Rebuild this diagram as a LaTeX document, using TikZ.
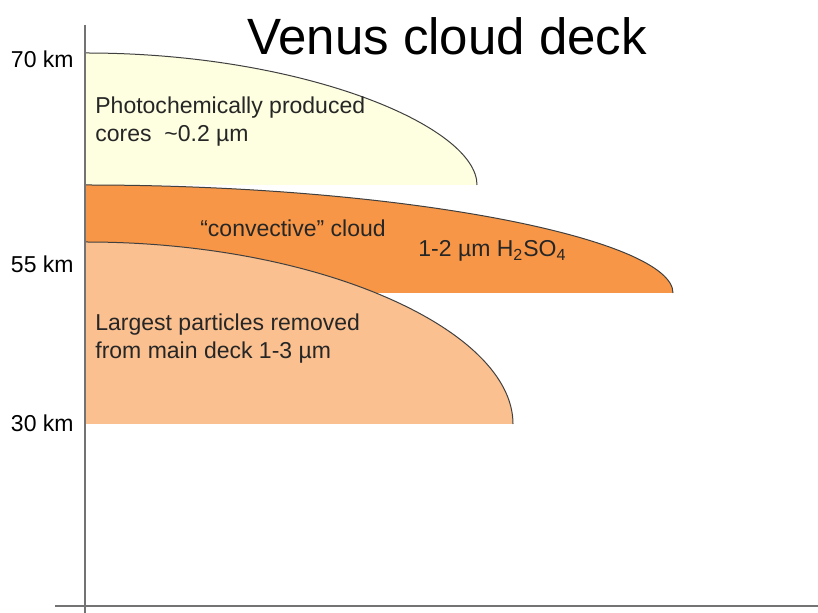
\documentclass[tikz,border=0pt]{standalone}
\usepackage{fontspec}
\setmainfont{Liberation Sans}
\usetikzlibrary{positioning}

\definecolor{coreyellow}{HTML}{FEFEE0}
\definecolor{convorange}{HTML}{F79646}
\definecolor{lowerpeach}{HTML}{FAC090}

\begin{document}
\begin{tikzpicture}[
  x=0.5pt, y=-0.5pt,
  lbl/.style={font=\fontsize{11.5}{14}\selectfont, text=black!85, align=left, inner sep=0pt},
  km/.style={font=\fontsize{11.5}{14}\selectfont, anchor=east, inner sep=0pt},
  rim/.style={draw=black!75, line width=0.5pt},
  axis/.style={draw=black!55, line width=0.6pt}
]
\useasboundingbox (0,0) rectangle (818,613);

% cloud layers, top to bottom
\fill[coreyellow] (86,53) .. controls (302,53) and (477,126) .. (477,185) -- (86,185) -- cycle;
\draw[rim] (86,53) .. controls (302,53) and (477,126) .. (477,185);
\fill[convorange] (86,185) .. controls (410,185) and (673,240) .. (673,293) -- (86,293) -- cycle;
\draw[rim] (86,185) .. controls (410,185) and (673,240) .. (673,293);
\fill[lowerpeach] (86,242) .. controls (320,242) and (513,330) .. (513,424) -- (86,424) -- cycle;
\draw[rim] (86,242) .. controls (320,242) and (513,330) .. (513,424);

% axes
\draw[axis] (85,25) -- (85,613);
\draw[axis] (55,606) -- (818,606);

\node[font=\fontsize{25.5}{30}\selectfont, inner sep=0pt] (title) at (447,36) {Venus cloud deck};

\node[km] (k70) at (74,59) {70 km};
\node[km] (k55) at (74,264) {55 km};
\node[km] (k30) at (74,423) {30 km};

\node[lbl, anchor=west] (cores) at (95,122) {Photochemically produced\\cores \ \textasciitilde0.2 µm};
\node[lbl] (conv) at (293,228) {“convective” cloud};
\node[lbl, anchor=west] (acid) at (418,251) {1-2 µm H\textsubscript{2}SO\textsubscript{4}};
\node[lbl, anchor=west] (large) at (95,339) {Largest particles removed\\from main deck 1-3 µm};
\end{tikzpicture}
\end{document}
